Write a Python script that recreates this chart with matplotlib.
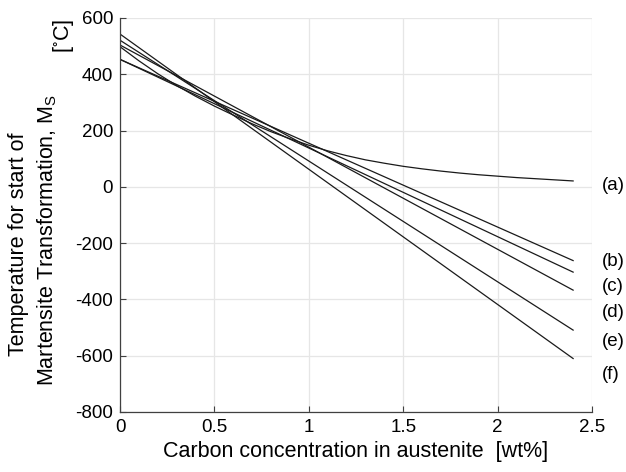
import matplotlib
matplotlib.use("Agg")
import matplotlib.pyplot as plt
import numpy as np

plt.rcParams['font.family'] = ['Liberation Sans', 'DejaVu Sans']
plt.rcParams['axes.unicode_minus'] = False

# Carbon content [wt%]
c_lin = [0.0, 2.4]
# linear curves (b)-(f): Ms at 0 and 2.4 wt% C
ms_b = [453, -262]
ms_c = [453, -303]
ms_d = [504, -367]
ms_e = [521, -509]
ms_f = [543, -610]

# curve (a), read point by point
c_a = [0.0, 0.1, 0.2, 0.3, 0.4, 0.5, 0.6, 0.7, 0.8, 0.9, 1.0, 1.1, 1.2,
       1.3, 1.4, 1.5, 1.6, 1.7, 1.8, 1.9, 2.0, 2.1, 2.2, 2.3, 2.4]
ms_a = [498, 448, 402, 360, 322, 287, 255, 224, 196, 171, 148, 128, 111,
        96, 84, 73, 64, 56, 49, 43, 38, 33, 29, 25, 21]

curve_names = ['(a)', '(b)', '(c)', '(d)', '(e)', '(f)']
name_y = [5, -264, -353, -445, -548, -665]

fig = plt.figure(figsize=(6.26, 4.72), dpi=100)
ax = fig.add_axes([120/626, 1 - 412/472, 472/626, 394/472])

ax.plot(c_a, ms_a, color='#1a1a1a', lw=0.9)
for ms in [ms_b, ms_c, ms_d, ms_e, ms_f]:
    ax.plot(c_lin, ms, color='#1a1a1a', lw=0.9)

for name, yy in zip(curve_names, name_y):
    ax.text(2.55, yy, name, fontsize=13.5, ha='left', va='center', clip_on=False)

ax.set_xlim(0, 2.5)
ax.set_ylim(-800, 600)
ax.set_xticks([0, 0.5, 1, 1.5, 2, 2.5])
ax.set_xticklabels(['0', '0.5', '1', '1.5', '2', '2.5'])
ax.set_yticks(np.arange(-800, 601, 200))
ax.grid(True, color='#e6e6e6', lw=0.9)
ax.set_axisbelow(True)
for s in ['top', 'right']:
    ax.spines[s].set_visible(False)
for s in ['left', 'bottom']:
    ax.spines[s].set_color('#404040')
    ax.spines[s].set_linewidth(0.9)
ax.tick_params(direction='in', length=4, width=0.8, colors='#404040',
               labelcolor='black', labelsize=13.5, pad=5)

fig.text(356/626, 1 - 452/472, 'Carbon concentration in austenite  [wt%]',
         ha='center', va='center', fontsize=15.5)

fig.text(19/626, 1 - 244/472, 'Temperature for start of', rotation=90,
         ha='center', va='center', fontsize=15.5)
fig.text(47/626, 1 - 240/472, 'Martensite Transformation, M$_\\mathregular{S}$', rotation=90,
         ha='center', va='center', fontsize=15.5)
fig.text(64/626, 1 - 36/472, '[$\\mathregular{^{\\circ}}$C]', rotation=90,
         ha='center', va='center', fontsize=15.5)

fig.savefig('out.png', dpi=100)
